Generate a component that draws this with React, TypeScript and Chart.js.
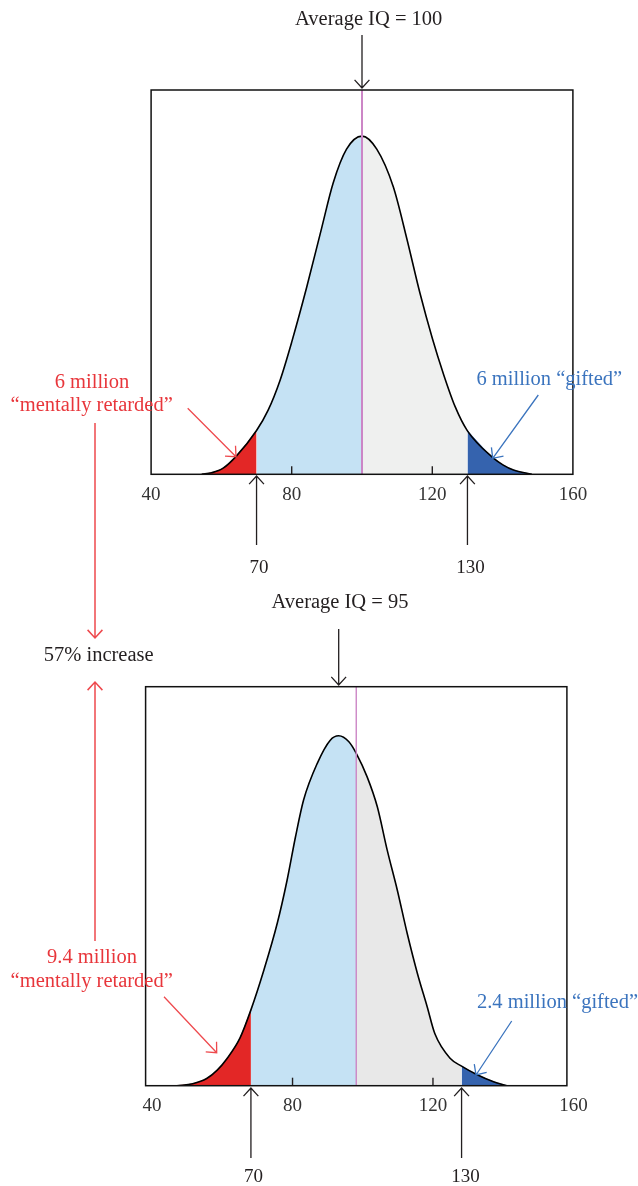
import React, { useEffect, useRef } from 'react';
import { Chart, registerables } from 'chart.js';

Chart.register(...registerables);

// ---------- data ----------
const X_MIN = 40;
const X_MAX = 160;
const X_TICKS = [40, 80, 120, 160];
const CUT_LOW = 70;
const CUT_HIGH = 130;
const REF_LINE = 100;

const TOP_MEAN = 100;
const TOP_IQ = [54.4, 57.2, 60.5, 64.3, 70, 73.3, 76.7, 80, 84.3, 88.5, 91.8, 95.6, 100, 104.2, 108.9, 112.7, 116.5, 120, 123.1, 126.5, 130, 137.4, 140.2, 143.1, 148.3];
const TOP_DENSITY = [0, 0.4, 1.6, 4.8, 11.4, 16.7, 24.5, 34.4, 48.8, 64.0, 75.8, 84.6, 88.0, 84.6, 74.8, 61.5, 47.1, 35.4, 26.3, 17.6, 11.3, 4.2, 2.4, 1.1, 0];

const BOTTOM_MEAN = 95;
const BOTTOM_IQ = [48.9, 53.4, 57.4, 60.4, 63.1, 66.9, 70, 73.7, 77.5, 80.3, 82.7, 85.0, 88.9, 92.6, 95.0, 97.9, 100, 103.1, 106.0, 108.8, 111.7, 114.5, 117.4, 120.2, 122.4, 126.8, 130, 134.3, 139.1, 142.9];
const BOTTOM_DENSITY = [0, 0.5, 1.8, 3.9, 6.7, 12.0, 19.0, 29.0, 40.7, 51.5, 62.4, 71.6, 80.8, 86.6, 87.7, 86.2, 83.3, 77.4, 69.9, 59.1, 49.0, 38.2, 28.2, 19.8, 13.0, 6.8, 4.9, 2.8, 1.0, 0];

const TOP_TEXT = ['Average IQ = 100', '6 million', '“mentally retarded”', '6 million “gifted”'];
const BOTTOM_TEXT = ['Average IQ = 95', '9.4 million', '“mentally retarded”', '2.4 million “gifted”'];
const INCREASE_TEXT = '57% increase';

// ---------- style ----------
const W = 638;
const H = 1186;
const AXIS_H = 50;
const SERIF = '"Liberation Serif", "DejaVu Serif", serif';
const RED = '#e32726';
const RED_TEXT = '#e8363b';
const RED_LINE = '#ee4a4e';
const LIGHT_BLUE = '#c5e2f4';
const DARK_BLUE = '#3563ae';
const BLUE_TEXT = '#3b74be';
const MAGENTA = '#cc86c6';
const INK = '#231f20';

type Pt = { x: number; y: number };
type Arrow = { x1: number | string; y1: number; x2: number | string; y2: number; color: string; width?: number };
type Txt = { text: string; x: number | string; y: number; color: string; size: number; dx?: number };

interface ChartSpec {
  xs: number[];
  ys: number[];
  mean: number;
  box: { left: number; right: number; top: number; bottom: number };
  grey: string;
  magentaWidth: number;
  labelOffset: number;
  arrows: Arrow[];
  texts: Txt[];
}

function drawArrow(ctx: CanvasRenderingContext2D, x1: number, y1: number, x2: number, y2: number, color: string, width = 1.3) {
  const ang = Math.atan2(y2 - y1, x2 - x1);
  const head = 11;
  const spread = 0.74;
  ctx.save();
  ctx.strokeStyle = color;
  ctx.lineWidth = width;
  ctx.lineCap = 'butt';
  ctx.beginPath();
  ctx.moveTo(x1, y1);
  ctx.lineTo(x2, y2);
  ctx.moveTo(x2 - head * Math.cos(ang - spread), y2 - head * Math.sin(ang - spread));
  ctx.lineTo(x2, y2);
  ctx.lineTo(x2 - head * Math.cos(ang + spread), y2 - head * Math.sin(ang + spread));
  ctx.stroke();
  ctx.restore();
}

const annotatePlugin = {
  id: 'annotate',
  afterDraw(chart: any) {
    const spec: ChartSpec = chart.options.plugins.annotate.spec;
    const ctx: CanvasRenderingContext2D = chart.ctx;
    const xs = chart.scales.x;
    const area = chart.chartArea;
    const resolveX = (v: number | string) => (typeof v === 'string' ? xs.getPixelForValue(parseFloat(v.slice(1))) : v);

    // inward tick marks (interior ticks only)
    ctx.save();
    ctx.strokeStyle = INK;
    ctx.lineWidth = 1.4;
    xs.ticks.forEach((t: any) => {
      if (t.value <= X_MIN || t.value >= X_MAX) return;
      const px = xs.getPixelForValue(t.value) + spec.labelOffset;
      ctx.beginPath();
      ctx.moveTo(px, area.bottom);
      ctx.lineTo(px, area.bottom - 8);
      ctx.stroke();
    });
    // frame
    ctx.lineWidth = 1.5;
    ctx.strokeStyle = '#111';
    ctx.strokeRect(area.left, area.top, area.right - area.left, area.bottom - area.top);
    ctx.restore();

    spec.arrows.forEach((a) => drawArrow(ctx, resolveX(a.x1), a.y1, resolveX(a.x2), a.y2, a.color, a.width));

    ctx.save();
    ctx.textAlign = 'center';
    ctx.textBaseline = 'alphabetic';
    spec.texts.forEach((t) => {
      ctx.font = `${t.size}px ${SERIF}`;
      ctx.fillStyle = t.color;
      ctx.fillText(t.text, resolveX(t.x) + (t.dx || 0), t.y);
    });
    ctx.restore();
  },
};

function buildConfig(spec: ChartSpec): any {
  const pts: Pt[] = spec.xs.map((x, i) => ({ x, y: spec.ys[i] }));
  const region = (lo: number, hi: number) => pts.filter((p) => p.x >= lo && p.x <= hi);
  const fillSet = (data: Pt[], color: string) => ({
    data,
    backgroundColor: color,
    borderColor: color,
    borderWidth: 0.6,
    fill: 'origin',
    pointRadius: 0,
    cubicInterpolationMode: 'monotone',
    order: 5,
  });
  return {
    type: 'line',
    data: {
      datasets: [
        fillSet(region(-Infinity, CUT_LOW), RED),
        fillSet(region(CUT_LOW, REF_LINE), LIGHT_BLUE),
        fillSet(region(REF_LINE, CUT_HIGH), spec.grey),
        fillSet(region(CUT_HIGH, Infinity), DARK_BLUE),
        {
          data: pts,
          borderColor: '#000',
          borderWidth: 1.6,
          fill: false,
          pointRadius: 0,
          cubicInterpolationMode: 'monotone',
          order: 2,
        },
        {
          data: [
            { x: REF_LINE, y: 0 },
            { x: REF_LINE, y: 100 },
          ],
          borderColor: MAGENTA,
          borderWidth: spec.magentaWidth,
          fill: false,
          pointRadius: 0,
          tension: 0,
          order: 1,
        },
      ],
    },
    options: {
      animation: false,
      responsive: false,
      devicePixelRatio: 1,
      events: [],
      layout: {
        padding: {
          left: spec.box.left,
          right: W - spec.box.right,
          top: spec.box.top,
          bottom: H - spec.box.bottom - AXIS_H,
        },
      },
      scales: {
        x: {
          type: 'linear',
          min: X_MIN,
          max: X_MAX,
          afterBuildTicks: (s: any) => {
            s.ticks = X_TICKS.map((v) => ({ value: v }));
          },
          afterFit: (s: any) => {
            s.height = AXIS_H;
          },
          grid: { display: false, drawTicks: false },
          border: { display: false },
          ticks: {
            autoSkip: false,
            maxRotation: 0,
            padding: 9,
            labelOffset: spec.labelOffset,
            color: '#333',
            font: { family: SERIF, size: 19 },
            callback: (v: any) => String(v),
          },
        },
        y: { display: false, min: 0, max: 100 },
      },
      plugins: {
        legend: { display: false },
        tooltip: { enabled: false },
        annotate: { spec },
      },
    },
    plugins: [annotatePlugin],
  };
}

const TOP_SPEC: ChartSpec = {
  xs: TOP_IQ,
  ys: TOP_DENSITY,
  mean: TOP_MEAN,
  box: { left: 151.1, right: 572.9, top: 90, bottom: 474.3 },
  grey: '#eff0ef',
  magentaWidth: 2,
  labelOffset: 0,
  arrows: [
    { x1: 'v' + TOP_MEAN, y1: 35, x2: 'v' + TOP_MEAN, y2: 88, color: INK },
    { x1: 'v' + CUT_LOW, y1: 545, x2: 'v' + CUT_LOW, y2: 476, color: INK },
    { x1: 'v' + CUT_HIGH, y1: 545, x2: 'v' + CUT_HIGH, y2: 476, color: INK },
    { x1: 187.7, y1: 408.3, x2: 236, y2: 456.7, color: RED_LINE },
    { x1: 538.3, y1: 395, x2: 492.7, y2: 458.3, color: BLUE_TEXT },
    { x1: 95, y1: 423, x2: 95, y2: 638, color: RED_LINE, width: 1.5 },
  ],
  texts: [
    { text: TOP_TEXT[0], x: 368.7, y: 25, color: INK, size: 20.5 },
    { text: TOP_TEXT[1], x: 92, y: 388, color: RED_TEXT, size: 20.5 },
    { text: TOP_TEXT[2], x: 91.7, y: 410.7, color: RED_TEXT, size: 20.5 },
    { text: TOP_TEXT[3], x: 549.3, y: 385, color: BLUE_TEXT, size: 20.5 },
    { text: String(CUT_LOW), x: 'v' + CUT_LOW, dx: 2.5, y: 573, color: INK, size: 19 },
    { text: String(CUT_HIGH), x: 'v' + CUT_HIGH, dx: 3, y: 573, color: INK, size: 19 },
    { text: INCREASE_TEXT, x: 98.7, y: 661, color: INK, size: 20.5 },
  ],
};

const BOTTOM_SPEC: ChartSpec = {
  xs: BOTTOM_IQ,
  ys: BOTTOM_DENSITY,
  mean: BOTTOM_MEAN,
  box: { left: 145.6, right: 566.9, top: 686.7, bottom: 1085.7 },
  grey: '#e8e8e8',
  magentaWidth: 1.4,
  labelOffset: 6.5,
  arrows: [
    { x1: 'v' + BOTTOM_MEAN, y1: 629, x2: 'v' + BOTTOM_MEAN, y2: 685, color: INK },
    { x1: 'v' + CUT_LOW, y1: 1158, x2: 'v' + CUT_LOW, y2: 1088, color: INK },
    { x1: 'v' + CUT_HIGH, y1: 1158, x2: 'v' + CUT_HIGH, y2: 1088, color: INK },
    { x1: 95, y1: 941, x2: 95, y2: 682, color: RED_LINE, width: 1.5 },
    { x1: 164, y1: 996.7, x2: 216.7, y2: 1052.7, color: RED_LINE },
    { x1: 511.7, y1: 1021, x2: 476, y2: 1075, color: BLUE_TEXT },
  ],
  texts: [
    { text: BOTTOM_TEXT[0], x: 340, y: 608.3, color: INK, size: 20.5 },
    { text: BOTTOM_TEXT[1], x: 92, y: 963.3, color: RED_TEXT, size: 20.5 },
    { text: BOTTOM_TEXT[2], x: 91.7, y: 987.3, color: RED_TEXT, size: 20.5 },
    { text: BOTTOM_TEXT[3], x: 557.5, y: 1008.3, color: BLUE_TEXT, size: 20.5 },
    { text: String(CUT_LOW), x: 'v' + CUT_LOW, dx: 2.5, y: 1181.7, color: INK, size: 19 },
    { text: String(CUT_HIGH), x: 'v' + CUT_HIGH, dx: 4, y: 1181.7, color: INK, size: 19 },
  ],
};

function Curve({ spec }: { spec: ChartSpec }) {
  const ref = useRef<HTMLCanvasElement | null>(null);
  useEffect(() => {
    if (!ref.current) return;
    const chart = new Chart(ref.current, buildConfig(spec));
    return () => chart.destroy();
  }, [spec]);
  return (
    <canvas
      ref={ref}
      width={W}
      height={H}
      style={{ position: 'absolute', left: 0, top: 0, width: W, height: H }}
    />
  );
}

export default function App() {
  return (
    <div style={{ position: 'absolute', left: 0, top: 0, width: W, height: H, background: '#fff', overflow: 'hidden' }}>
      <Curve spec={TOP_SPEC} />
      <Curve spec={BOTTOM_SPEC} />
    </div>
  );
}
